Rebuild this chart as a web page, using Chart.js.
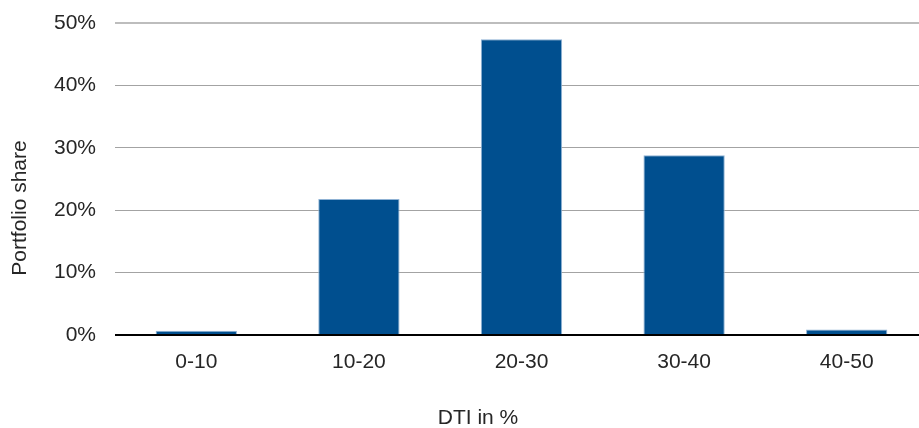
<!DOCTYPE html>
<html>
<head>
<meta charset="utf-8">
<script src="https://cdn.jsdelivr.net/npm/chart.js@4"></script>
<style>
  html, body { margin: 0; padding: 0; background: #fff; overflow: hidden; }
  /* the original plot runs slightly past the right edge of the picture */
  #wrap { width: 929px; height: 428px; }
</style>
</head>
<body>
<div id="wrap"><canvas id="myChart"></canvas></div>
<script>
const categories = ['0-10', '10-20', '20-30', '30-40', '40-50'];
const shares = [0.7, 21.8, 47.4, 28.8, 0.9];
const yTicks = [0, 10, 20, 30, 40, 50];
const xTitle = 'DTI in %';
const yTitle = 'Portfolio share';

const FONT = '"Liberation Sans", Arial, sans-serif';
const TEXT = '#262626';

// axis titles sit off-centre in the original, so draw them by hand
const axisTitles = {
  id: 'axisTitles',
  afterDraw(chart) {
    const {ctx} = chart;
    ctx.save();
    ctx.fillStyle = TEXT;
    ctx.font = '21px ' + FONT;
    ctx.textAlign = 'center';
    ctx.textBaseline = 'middle';
    ctx.fillText(xTitle, 478, 418);
    ctx.translate(20, 208);
    ctx.rotate(-Math.PI / 2);
    ctx.fillText(yTitle, 0, 0);
    ctx.restore();
  },
};

const data = {
  labels: categories,
  datasets: [
    {
      label: yTitle,
      data: shares,
      backgroundColor: '#004f8f',
      borderColor: '#8fb2d4',
      borderWidth: 1,
      barPercentage: 0.5,
      categoryPercentage: 1,
    },
  ],
};

const config = {
  type: 'bar',
  data: data,
  options: {
    responsive: true,
    maintainAspectRatio: false,
    animation: false,
    layout: {padding: {top: 23, right: 1}},
    plugins: {
      legend: {display: false},
      tooltip: {enabled: false},
    },
    scales: {
      x: {
        grid: {display: false},
        border: {display: false},
        ticks: {color: TEXT, font: {family: FONT, size: 21}, padding: 7},
        afterFit(scale) {
          scale.height = 93;
        },
      },
      y: {
        min: 0,
        max: 50,
        afterBuildTicks(scale) {
          scale.ticks = yTicks.map((v) => ({value: v}));
        },
        grid: {
          drawTicks: false,
          color: (c) => (c.index === 0 ? '#000' : (c.index === yTicks.length - 1 ? '#bdbdbd' : '#a3a3a3')),
          lineWidth: (c) => (c.index === 0 || c.index === yTicks.length - 1 ? 2 : 1),
        },
        border: {display: false},
        ticks: {
          color: TEXT,
          font: {family: FONT, size: 21},
          padding: 19,
          callback: (v) => v + '%',
        },
        afterFit(scale) {
          scale.width = 115;
          scale.paddingTop = 0;
          scale.paddingBottom = 0;
        },
      },
    },
  },
  plugins: [axisTitles],
};

const myChart = new Chart(document.getElementById('myChart'), config);
</script>
</body>
</html>
